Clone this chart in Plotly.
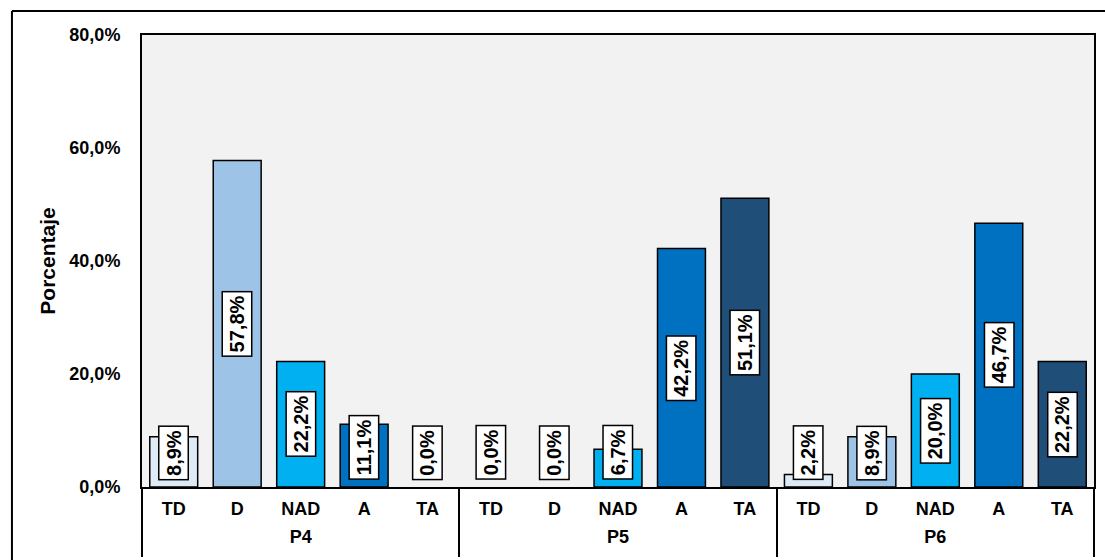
import plotly.graph_objects as go

groups = ["P4", "P5", "P6"]
levels = ["TD", "D", "NAD", "A", "TA"]
p4 = [8.9, 57.8, 22.2, 11.1, 0.0]
p5 = [0.0, 0.0, 6.7, 42.2, 51.1]
p6 = [2.2, 8.9, 20.0, 46.7, 22.2]
level_colors = ["#deebf7", "#9dc3e6", "#00b0f0", "#0070c0", "#1f4e79"]
y_ticks = [0, 20, 40, 60, 80]

series = [p4, p5, p6]
n_lv = len(levels)
values = [v for s in series for v in s]
inner = [l for _ in groups for l in levels]
colors = [c for _ in groups for c in level_colors]
xpos = list(range(len(values)))
group_centers = [g * n_lv + (n_lv - 1) / 2 for g in range(len(groups))]
group_edges = [g * n_lv - 0.5 for g in range(len(groups) + 1)]
xrange = [-0.5, len(values) - 0.5]


def fmt(v):
    return f"{v:.1f}".replace(".", ",") + "%"


FONT = "Liberation Sans, Arial, sans-serif"

fig = go.Figure()
fig.add_trace(go.Bar(
    x=xpos, y=values,
    marker=dict(color=colors,
                line=dict(color="black", width=[1.5 if v > 0 else 0 for v in values])),
    hoverinfo="skip", showlegend=False,
))
# helper trace to bind the group-label axis
fig.add_trace(go.Scatter(x=xpos, y=values, xaxis="x2", mode="markers",
                         marker=dict(opacity=0), showlegend=False, hoverinfo="skip"))

annotations = []
for i, v in enumerate(values):
    if v >= 15:
        y, anchor = v / 2, "middle"
    else:
        y, anchor = 1.2, "bottom"
    annotations.append(dict(
        x=i, y=y, xref="x", yref="y", text=fmt(v), showarrow=False,
        textangle=-90, yanchor=anchor, xanchor="center",
        bgcolor="white", bordercolor="black", borderwidth=1.5, borderpad=3,
        font=dict(family=FONT, size=20, color="black", weight="bold"),
    ))

fig.update_layout(
    width=1105, height=560,
    margin=dict(l=142, r=11, t=35, b=73),
    paper_bgcolor="white", plot_bgcolor="#f2f2f2",
    bargap=0.245,
    font=dict(family=FONT, color="black"),
    annotations=annotations,
    xaxis=dict(
        range=xrange, tickvals=xpos, ticktext=inner, automargin=False,
        showline=True, linecolor="black", linewidth=2, mirror=True,
        ticks="", showgrid=False, zeroline=False, ticklabelstandoff=4,
        tickfont=dict(family=FONT, size=18, color="black", weight="bold"),
        minor=dict(tickvals=group_edges, ticks="outside", ticklen=68,
                   tickwidth=1.5, tickcolor="black", showgrid=False),
    ),
    xaxis2=dict(
        overlaying="x", anchor="y", side="bottom", range=xrange,
        tickvals=group_centers, ticktext=groups, automargin=False,
        ticks="", showgrid=False, zeroline=False, showline=False,
        ticklabelstandoff=37,
        tickfont=dict(family=FONT, size=18, color="black", weight="bold"),
    ),
    yaxis=dict(
        range=[0, 80], tickvals=y_ticks, ticktext=[fmt(t) for t in y_ticks],
        showline=True, linecolor="black", linewidth=2, mirror=True,
        showgrid=False, zeroline=False, ticks="", automargin=False,
        ticklabelstandoff=16,
        tickfont=dict(family=FONT, size=18, color="black", weight="bold"),
        title=dict(text="Porcentaje", standoff=8,
                   font=dict(family=FONT, size=21, color="black", weight="bold")),
    ),
    shapes=[
        dict(type="line", xref="paper", yref="paper", x0=-0.1366, x1=1.05,
             y0=1.0531, y1=1.0531, line=dict(color="black", width=2)),
        dict(type="line", xref="paper", yref="paper", x0=-0.1366, x1=-0.1366,
             y0=1.0531, y1=-0.3, line=dict(color="black", width=2)),
    ],
)

fig.write_html("out.html", config={"displayModeBar": False},
               post_script="document.body.style.margin='0';document.body.style.overflow='hidden';")
